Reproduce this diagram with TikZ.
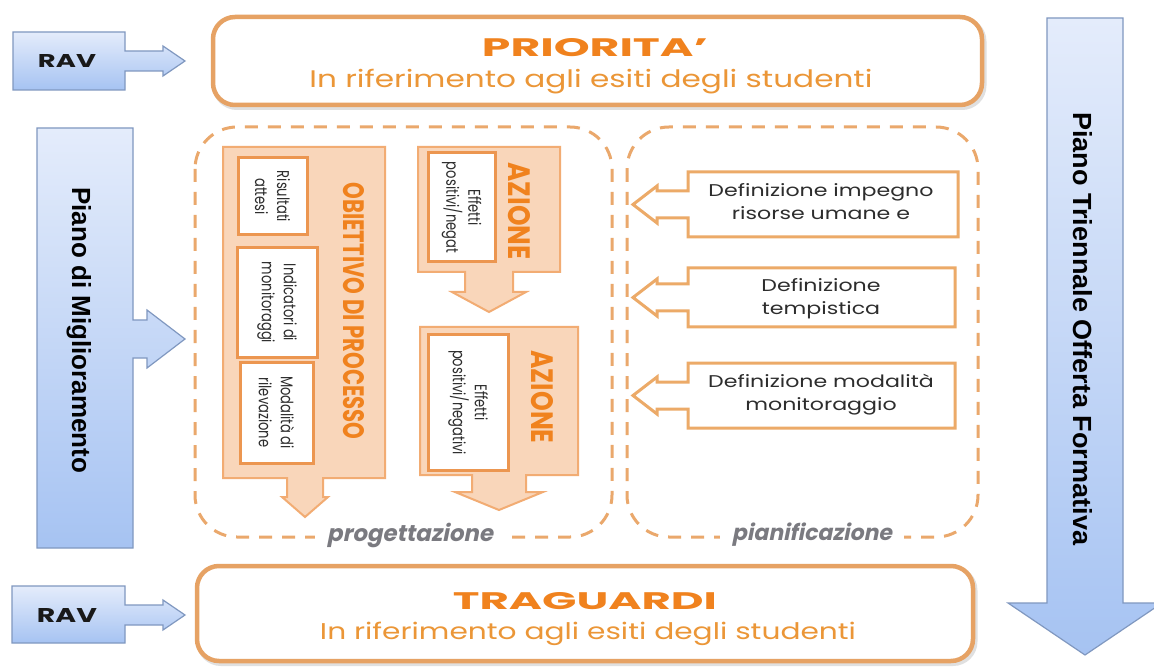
\documentclass[tikz,border=0pt]{standalone}
\usepackage{fontspec}
\usepackage{graphicx}
\setmainfont{Poppins}
\newfontfamily\hgothic[FakeStretch=1.3]{Poppins}
\newfontfamily\vgothic[FakeStretch=0.77]{Poppins}
\newfontfamily\labelfont[FakeSlant=0.2]{Poppins}
\newfontfamily\arialb{Liberation Sans}
\usetikzlibrary{calc}
\definecolor{ortitle}{RGB}{240,130,30}
\definecolor{orsub}{RGB}{235,150,55}
\definecolor{orframe}{RGB}{230,162,100}
\definecolor{ordash}{RGB}{234,168,108}
\definecolor{peach}{RGB}{249,214,186}
\definecolor{peachedge}{RGB}{242,172,115}
\definecolor{orinner}{RGB}{236,150,80}
\definecolor{orbox}{RGB}{236,170,104}
\definecolor{bluetop}{RGB}{228,236,251}
\definecolor{bluebot}{RGB}{166,195,242}
\definecolor{blueedge}{RGB}{128,152,192}
\definecolor{darktext}{RGB}{45,45,45}
\definecolor{graylabel}{RGB}{122,122,128}
\tikzset{
  bluecallout/.style={top color=bluetop, bottom color=bluebot, draw=blueedge, line width=1.2pt, line join=miter},
  bigframe/.style={draw=orframe, line width=4.5pt, rounded corners=22pt, fill=white, inner sep=0pt},
  bigshadow/.style={draw=black!12, line width=5pt, rounded corners=22pt, inner sep=0pt},
  dashframe/.style={draw=ordash, line width=3pt, dash pattern=on 13pt off 10pt, rounded corners=42pt},
  column/.style={fill=peach, draw=peachedge, line width=2pt, line join=miter},
  innerbox/.style={draw=orinner, line width=3pt, fill=white, inner sep=0pt},
  callbox/.style={draw=orbox, line width=3pt, fill=white, line join=miter},
  vtext/.style={rotate=-90, align=center, inner sep=0pt, font=\vgothic\fontsize{17}{22}\selectfont, text=darktext},
  htext/.style={align=center, inner sep=0pt, font=\hgothic\fontsize{17}{23}\selectfont, text=darktext},
  vtitle/.style={rotate=-90, inner sep=0pt, text=ortitle, font=\bfseries},
  bluetext/.style={rotate=-90, anchor=base west, inner sep=0pt, text=black, font=\arialb\bfseries},
  ravtext/.style={inner sep=0pt, text=black!90, font=\bfseries},
  labelstyle/.style={fill=white, inner xsep=12pt, inner ysep=3pt, text=graylabel, font=\labelfont\bfseries}
}
\begin{document}
\begin{tikzpicture}[x=1pt,y=-1pt]
\useasboundingbox (0,0) rectangle (1154,668);
\clip (0,0) rectangle (1154,668);
\fill[white] (0,0) rectangle (1154,668);

% ---------- blue callouts ----------
\path[bluecallout] (13,32) -- (125,32) -- (125,51) -- (163,51) -- (163,46) -- (185,61)
  -- (163,76) -- (163,71) -- (125,71) -- (125,90) -- (13,90) -- cycle;
\node[ravtext] (rav1) at (67,61) {\resizebox{58pt}{13pt}{RAV}};

\path[bluecallout] (12,586) -- (125,586) -- (125,605) -- (163,605) -- (163,600) -- (185,615)
  -- (163,630) -- (163,625) -- (125,625) -- (125,643) -- (12,643) -- cycle;
\node[ravtext] (rav2) at (67,615) {\resizebox{60pt}{14pt}{RAV}};

\path[bluecallout] (37,128) -- (133,128) -- (133,320) -- (147,320) -- (147,310) -- (185,339)
  -- (147,368) -- (147,358) -- (133,358) -- (133,548) -- (37,548) -- cycle;
\node[bluetext] (pdm) at (72,187) {\resizebox{286pt}{19pt}{Piano di Miglioramento}};

\path[bluecallout] (1047,18) -- (1123,18) -- (1123,603) -- (1162,603) -- (1085,655)
  -- (1008,603) -- (1047,603) -- cycle;
\node[bluetext] (ptof) at (1073,112) {\resizebox{433pt}{19pt}{Piano Triennale Offerta Formativa}};

% ---------- big frames ----------
\node[bigshadow, minimum width=769pt, minimum height=88pt] at (599.5,63.5) {};
\node[bigframe, minimum width=769pt, minimum height=88pt] (prio) at (597.5,61) {};
\node[inner sep=0pt, text=ortitle, font=\bfseries] (priot) at (595,48) {\resizebox{226pt}{18pt}{PRIORITA'}};
\node[anchor=base, inner sep=0pt, text=orsub] (prios) at (591,88)
  {\resizebox{563pt}{!}{\hgothic\fontsize{24}{24}\selectfont In riferimento agli esiti degli studenti}};

\node[bigshadow, minimum width=776pt, minimum height=95pt] at (587,616) {};
\node[bigframe, minimum width=776pt, minimum height=95pt] (trag) at (585,613.5) {};
\node[inner sep=0pt, text=ortitle, font=\bfseries] (tragt) at (585,601.5) {\resizebox{264pt}{17pt}{TRAGUARDI}};
\node[anchor=base, inner sep=0pt, text=orsub] (trags) at (588,639)
  {\resizebox{536pt}{!}{\hgothic\fontsize{24}{24}\selectfont In riferimento agli esiti degli studenti}};

% ---------- dashed groups ----------
\draw[dashframe] (195,127) rectangle (612,537);
\draw[dashframe] (627,127) rectangle (978,537);
\node[labelstyle] (prog) at (410,535) {\resizebox{166pt}{!}{progettazione}};
\node[labelstyle] (pian) at (812,535) {\resizebox{160pt}{!}{pianificazione}};

% ---------- progettazione columns ----------
\path[column] (223,147) -- (385,147) -- (385,478) -- (323,478) -- (323,497) -- (328,497)
  -- (305,517) -- (282,497) -- (287,497) -- (287,478) -- (223,478) -- cycle;
\path[column] (418,147) -- (560,147) -- (560,272) -- (513,272) -- (513,292) -- (526,292)
  -- (489,312) -- (452,292) -- (465,292) -- (465,272) -- (418,272) -- cycle;
\path[column] (420,327) -- (578,327) -- (578,475) -- (526,475) -- (526,492) -- (543,492)
  -- (499,510) -- (455,492) -- (472,492) -- (472,475) -- (420,475) -- cycle;

\node[innerbox, minimum width=69pt, minimum height=77pt] (ris) at (272.5,196.5) {};
\node[innerbox, minimum width=80pt, minimum height=109pt] (ind) at (277,302.5) {};
\node[innerbox, minimum width=73pt, minimum height=101pt] (mod) at (276.5,412.5) {};
\node[innerbox, minimum width=67pt, minimum height=109pt] (ef1) at (461.5,207.5) {};
\node[innerbox, minimum width=80pt, minimum height=135pt] (ef2) at (468,402.5) {};

\node[vtext] (rist) at (ris) {Risultati\\attesi};
\node[vtext] (indt) at (ind) {Indicatori di\\monitoraggi};
\node[vtext] (modt) at (mod) {Modalità di\\rilevazione};
\node[vtext] (ef1t) at (ef1) {Effetti\\positivi/negat};
\node[vtext] (ef2t) at (ef2) {Effetti\\positivi/negativi};

\node[vtitle] (obt) at (354,311) {\resizebox{257pt}{21pt}{OBIETTIVO DI PROCESSO}};
\node[vtitle] (az1) at (519,211) {\resizebox{97pt}{22pt}{AZIONE}};
\node[vtitle] (az2) at (542,397) {\resizebox{93pt}{22pt}{AZIONE}};

% ---------- pianificazione callouts ----------
\path[callbox] (688,172) -- (958,172) -- (958,237) -- (688,237) -- (688,218) -- (657,218)
  -- (657,223) -- (633,204.5) -- (657,186) -- (657,191) -- (688,191) -- cycle;
\path[callbox] (688,268) -- (955,268) -- (955,327) -- (688,327) -- (688,311) -- (657,311)
  -- (657,316) -- (633,297.5) -- (657,279) -- (657,284) -- (688,284) -- cycle;
\path[callbox] (688,363) -- (955,363) -- (955,428) -- (688,428) -- (688,409) -- (657,409)
  -- (657,414) -- (633,395.5) -- (657,377) -- (657,382) -- (688,382) -- cycle;

\node[htext] (d1) at (821,201.5) {Definizione impegno\\risorse umane e};
\node[htext] (d2) at (821,298.5) {Definizione\\tempistica};
\node[htext] (d3) at (821,394.5) {Definizione modalità\\monitoraggio};
\end{tikzpicture}
\end{document}
